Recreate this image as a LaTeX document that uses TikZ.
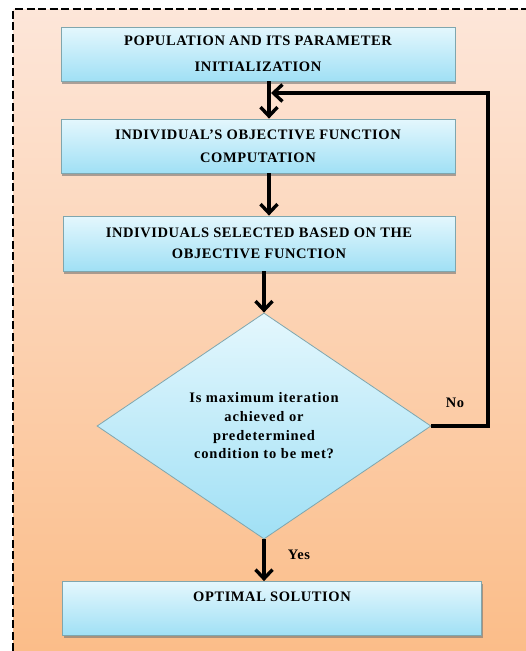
\documentclass[tikz,border=0pt]{standalone}
\usepackage{fontspec}
\setmainfont{Liberation Serif}
\newfontfamily\lblfont[LetterSpace=4]{Liberation Serif}
\newfontfamily\dmdfont[LetterSpace=6]{Liberation Serif}
\usetikzlibrary{shapes.geometric,shadows,arrows.meta,calc}
\definecolor{bgtop}{HTML}{FDE6D9}
\definecolor{bgbot}{HTML}{FBBD89}
\definecolor{boxtop}{HTML}{E4F7FD}
\definecolor{boxbot}{HTML}{A0E0F5}
\definecolor{boxline}{HTML}{7FA6AE}
\begin{document}
\begin{tikzpicture}[x=1pt,y=-1pt,
  procbox/.style={draw=boxline, line width=0.8pt, top color=boxtop, bottom color=boxbot,
    minimum width=394pt, minimum height=54pt, align=center, inner sep=0pt,
    font=\lblfont\bfseries\fontsize{14.5}{23}\selectfont,
    drop shadow={shadow xshift=1pt, shadow yshift=-2.5pt, fill=black!55, opacity=0.6}},
  decision/.style={diamond, draw=boxline, line width=0.8pt, top color=boxtop, bottom color=boxbot,
    minimum width=334pt, minimum height=226pt, align=center, inner sep=0pt, aspect=1.5,
    font=\dmdfont\bfseries\fontsize{14.5}{18.7}\selectfont},
  flow/.style={line width=3.4pt, -{Straight Barb[length=9pt,width=17pt]}},
  lbl/.style={font=\lblfont\bfseries\fontsize{14.5}{16}\selectfont, inner sep=0pt}
]
\useasboundingbox (0,0) rectangle (526,651);
\clip (0,0) rectangle (526,651);
\shade[top color=bgtop, bottom color=bgbot] (13,9) rectangle (526,651);
\draw[dash pattern=on 8pt off 3.5pt, line width=2.3pt] (13,651) -- (13,9) -- (526,9);

\node[procbox, font=\lblfont\bfseries\fontsize{14.5}{26}\selectfont] (b1) at (258,54) {POPULATION AND ITS PARAMETER\\INITIALIZATION};
\node[procbox] (b2) at (258,146) {INDIVIDUAL’S OBJECTIVE FUNCTION\\COMPUTATION};
\node[procbox, minimum width=392pt, minimum height=55pt, font=\lblfont\bfseries\fontsize{14.5}{21}\selectfont] (b3) at (259,243.5) {INDIVIDUALS SELECTED BASED ON THE\\OBJECTIVE FUNCTION};
\node[decision] (d) at (264,426) {Is maximum iteration\\achieved or\\predetermined\\condition to be met?};
\node[procbox, minimum width=419pt] (b4) at (272,608.5) {OPTIMAL SOLUTION\\\mbox{}};

\coordinate (ax) at (269,0);
\coordinate (fb) at (488,93);
\coordinate (fbend) at (271,93);

\draw[flow] (b1.south -| ax) -- (b2.north -| ax);
\draw[flow] (b2.south -| ax) -- (b3.north -| ax);
\draw[flow] (b3.south -| d.north) -- (d.north);
\draw[flow] (d.south) -- (b4.north -| d.south);
\draw[flow, line join=miter] (d.east) -| (fb) -- (fbend);

\node[lbl] (no) at (455,403) {No};
\node[lbl] (yes) at (299,555) {Yes};
\end{tikzpicture}
\end{document}
